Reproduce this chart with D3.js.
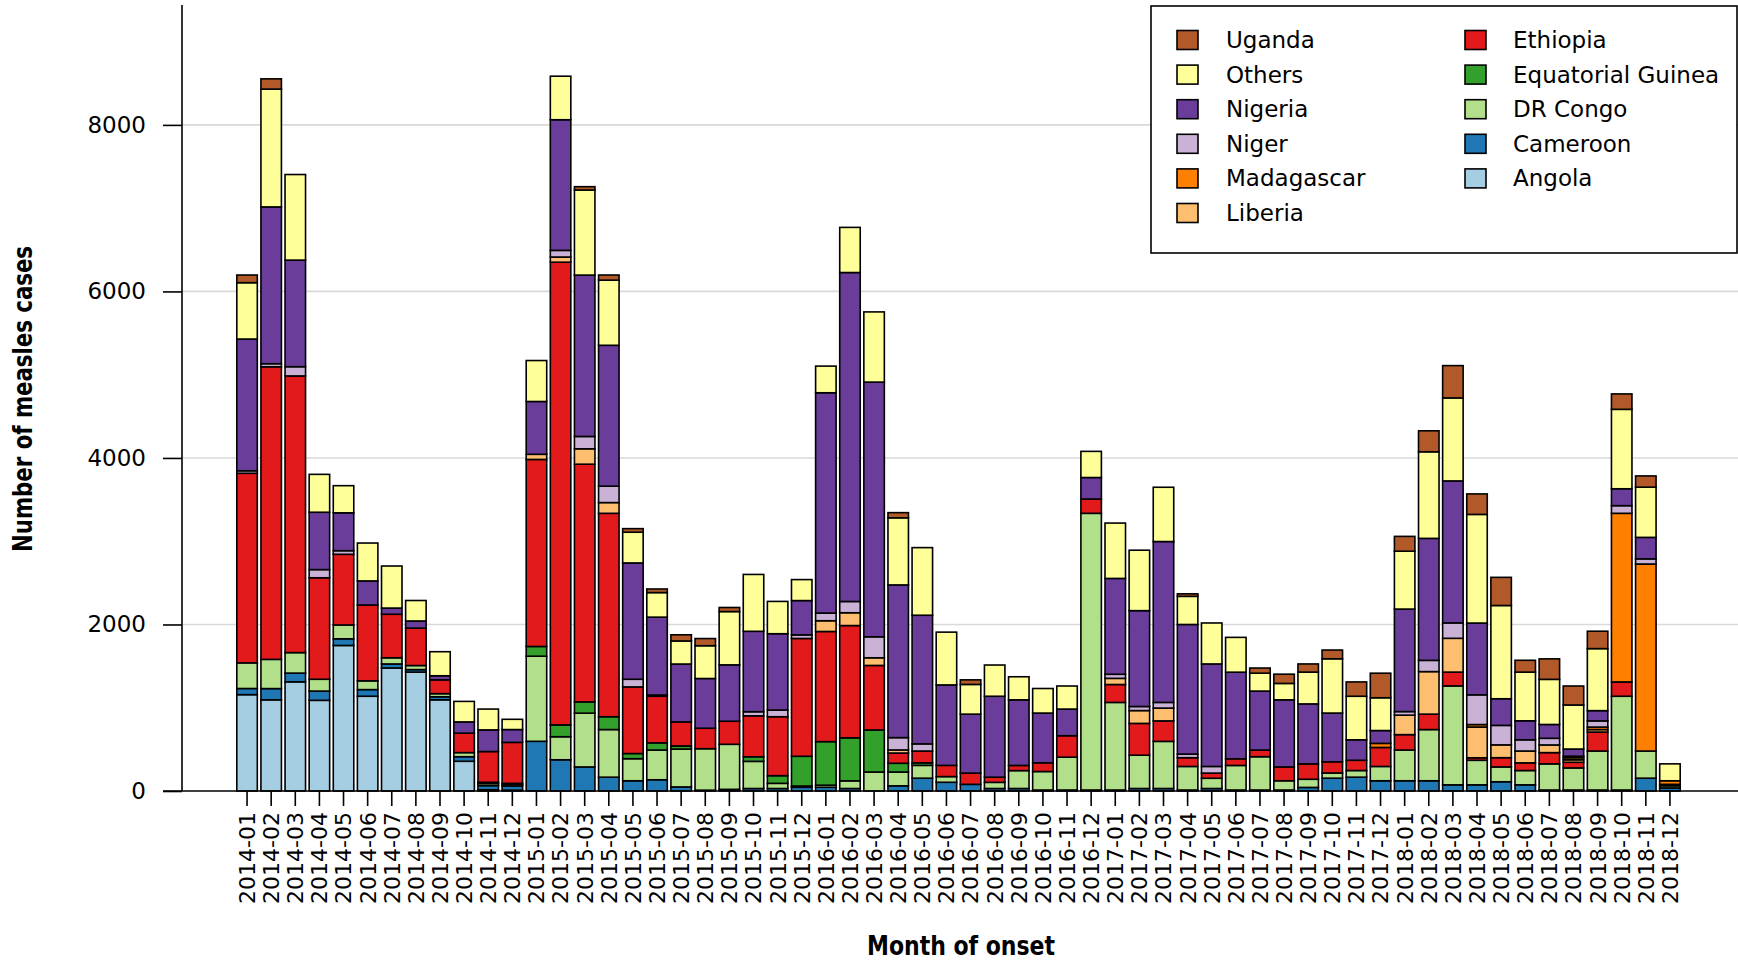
<!DOCTYPE html>
<html><head><meta charset="utf-8">
<script src="https://cdn.jsdelivr.net/npm/d3@7/dist/d3.min.js"></script>
<style>body{margin:0;background:#fff} svg{display:block}</style>
</head><body>
<svg id="c" width="1738" height="960"></svg>
<script>
const months = ["2014-01","2014-02","2014-03","2014-04","2014-05","2014-06","2014-07","2014-08","2014-09","2014-10","2014-11","2014-12",
"2015-01","2015-02","2015-03","2015-04","2015-05","2015-06","2015-07","2015-08","2015-09","2015-10","2015-11","2015-12",
"2016-01","2016-02","2016-03","2016-04","2016-05","2016-06","2016-07","2016-08","2016-09","2016-10","2016-11","2016-12",
"2017-01","2017-02","2017-03","2017-04","2017-05","2017-06","2017-07","2017-08","2017-09","2017-10","2017-11","2017-12",
"2018-01","2018-02","2018-03","2018-04","2018-05","2018-06","2018-07","2018-08","2018-09","2018-10","2018-11","2018-12"];

const angola = [1157,1095,1311,1089,1748,1138,1477,1428,1095,357,15,10,
0,0,0,0,0,0,0,0,0,0,0,0, 0,0,0,0,0,0,0,0,0,0,0,0, 0,0,0,0,0,0,0,0,0,0,0,0, 0,0,0,0,0,0,0,0,0,0,0,0];
const cameroon = [74,135,105,111,80,80,49,30,37,55,50,50,
597,375,289,166,123,135,49,10,20,30,30,45,
45,30,0,62,154,105,80,30,30,12,12,12,
12,30,30,12,30,12,12,12,43,154,166,123,
123,123,74,74,111,74,12,12,12,12,154,37];
const drCongo = [308,351,246,142,166,105,74,49,37,49,25,20,
1022,277,646,572,265,357,455,498,541,326,62,15,
25,92,228,166,154,68,0,74,215,222,394,3323,
1052,400,566,283,123,295,400,111,98,62,80,172,
369,615,1188,295,178,172,314,265,468,1126,326,25];
const eqGuinea = [0,0,0,0,0,0,0,0,0,0,15,12,
117,142,135,154,62,86,37,0,0,55,92,357,
523,517,505,105,30,0,0,0,0,0,0,0,
0,0,0,0,0,0,0,0,0,0,0,0, 0,0,0,0,0,0,0,0,0,0,0,0];
const ethiopia = [2277,3514,3323,1219,849,911,523,449,166,234,369,492,
2246,5557,2855,2443,800,560,289,246,277,492,708,1415,
1323,1348,775,123,142,135,135,62,62,105,258,172,
215,382,246,105,62,80,80,166,185,135,123,228,
185,185,166,30,111,92,135,68,228,172,0,18];
const liberia = [0,0,0,0,0,0,0,0,0,0,0,0,
62,62,185,129,0,0,0,0,0,0,0,0,
129,154,92,37,0,0,0,0,0,0,0,0,
74,154,154,0,0,0,0,0,0,0,0,0,
234,511,406,369,154,142,92,30,30,0,0,0];
const madagascar = [0,0,0,0,0,0,0,0,0,0,0,0, 0,0,0,0,0,0,0,0,0,0,0,0, 0,0,0,0,0,0,0,0,0,0,0,0,
0,0,0,0,0,0,0,0,0,0,0,49,
0,0,0,30,0,0,0,25,30,2025,2246,43];
const niger = [30,37,111,98,43,0,0,0,0,0,0,0,
0,80,148,197,92,15,0,0,0,49,80,43,
92,135,252,148,86,0,0,0,0,0,0,0,
49,49,68,43,80,0,0,0,0,0,0,0,
43,135,185,357,234,135,80,18,74,92,62,0];
const nigeria = [1582,1883,1280,689,455,289,74,86,49,135,260,154,
634,1569,1938,1692,1397,935,695,597,677,966,917,412,
2646,3951,3059,1834,1545,966,708,972,788,597,320,258,
1151,1151,1932,1557,1231,1040,708,806,720,585,246,154,
1231,1465,1705,862,320,228,166,86,123,203,258,0];
const others = [677,1415,1028,455,326,455,505,246,289,246,250,123,
492,523,1022,782,369,295,277,394,640,683,388,252,
320,542,843,806,812,634,357,375,277,295,277,314,
665,726,652,338,492,418,215,197,382,652,523,394,
695,1040,997,1305,1120,585,542,529,745,954,603,203];
const uganda = [92,123,0,0,0,0,0,0,0,0,0,0,
0,0,40,62,43,43,74,86,49,0,0,0,
0,0,0,62,0,0,55,0,0,0,0,0,
0,0,0,30,0,0,62,111,98,105,172,295,
178,252,388,246,338,142,246,228,209,185,135,0];

const seriesNames = ["Angola","Cameroon","DR Congo","Equatorial Guinea","Ethiopia","Liberia","Madagascar","Niger","Nigeria","Others","Uganda"];
const seriesValues = [angola,cameroon,drCongo,eqGuinea,ethiopia,liberia,madagascar,niger,nigeria,others,uganda];
const seriesColors = ["#a6cee3","#1f78b4","#b2df8a","#33a02c","#e31a1c","#fdbf6f","#ff7f00","#cab2d6","#6a3d9a","#ffff99","#b15928"];
const yTicks = [0,2000,4000,6000,8000];
const legendCol1 = ["Uganda","Others","Nigeria","Niger","Madagascar","Liberia"];
const legendCol2 = ["Ethiopia","Equatorial Guinea","DR Congo","Cameroon","Angola"];

const rows = months.map((m,i)=>{const r={month:m}; seriesNames.forEach((s,k)=>r[s]=seriesValues[k][i]); return r;});
const color = d3.scaleOrdinal().domain(seriesNames).range(seriesColors);

const svg = d3.select("#c");
const FONT = "'DejaVu Sans', Verdana, sans-serif";
const x = d3.scaleBand().domain(months).range([235,1682]).paddingInner(0.15).paddingOuter(0.075);
const y = d3.scaleLinear().domain([0,9440]).range([791,5]);

// gridlines
svg.append("g").selectAll("line").data(yTicks.filter(t=>t>0)).join("line")
  .attr("x1",182).attr("x2",1738).attr("y1",d=>y(d)).attr("y2",d=>y(d))
  .attr("stroke","#d9d9d9").attr("stroke-width",1.6);

// bars
const stack = d3.stack().keys(seriesNames)(rows);
svg.append("g").selectAll("g").data(stack).join("g")
  .attr("fill",d=>color(d.key))
  .selectAll("rect").data(d=>d.filter(p=>p[1]-p[0]>0)).join("rect")
  .attr("x",d=>x(d.data.month)).attr("width",x.bandwidth())
  .attr("y",d=>y(d[1])).attr("height",d=>y(d[0])-y(d[1]))
  .attr("stroke","#000").attr("stroke-width",1.6);

// y axis
const ya = svg.append("g").attr("transform","translate(182,0)")
  .call(d3.axisLeft(y).tickValues(yTicks).tickSize(19).tickSizeOuter(0).tickPadding(17).tickFormat(d3.format("d")));
ya.select(".domain").remove();
ya.selectAll(".tick line").attr("stroke","#000").attr("stroke-width",1.6);
ya.selectAll("text").attr("font-family",FONT).attr("font-size",23).attr("fill","#000");
svg.append("line").attr("x1",182).attr("x2",182).attr("y1",y.range()[1]).attr("y2",y(0)).attr("stroke","#000").attr("stroke-width",1.6);

// x axis
const xa = svg.append("g").attr("transform","translate(0,791)")
  .call(d3.axisBottom(x).tickSize(15).tickSizeOuter(0));
xa.select(".domain").remove();
xa.selectAll(".tick line").attr("stroke","#000").attr("stroke-width",1.6);
xa.selectAll("text").attr("font-family",FONT).attr("font-size",22).attr("fill","#000")
  .attr("transform","rotate(-90)").attr("text-anchor","end")
  .attr("x",-21).attr("y",0).attr("dy","0.36em");
svg.append("line").attr("x1",163).attr("x2",1738).attr("y1",791).attr("y2",791).attr("stroke","#000").attr("stroke-width",1.6);

// titles
const TFONT = "'Liberation Sans Narrow','DejaVu Sans Condensed','Arial Narrow',sans-serif";
svg.append("text").text("Month of onset").attr("x",961).attr("y",955)
  .attr("text-anchor","middle").attr("font-family",TFONT).attr("font-weight","bold").attr("font-size",27)
  .attr("textLength",188).attr("lengthAdjust","spacingAndGlyphs");
svg.append("text").text("Number of measles cases").attr("transform","translate(32,399) rotate(-90)")
  .attr("text-anchor","middle").attr("font-family",TFONT).attr("font-weight","bold").attr("font-size",27)
  .attr("textLength",306).attr("lengthAdjust","spacingAndGlyphs");

// legend
const lg = svg.append("g");
lg.append("rect").attr("x",1151).attr("y",6).attr("width",586).attr("height",247)
  .attr("fill","#fff").attr("stroke","#000").attr("stroke-width",1.6);
const addCol = (names, sx, tx) => {
  names.forEach((n,i)=>{
    const cy = 40 + i*34.6;
    lg.append("rect").attr("x",sx).attr("y",cy-9.5).attr("width",21).attr("height",19)
      .attr("fill",color(n)).attr("stroke","#000").attr("stroke-width",1.6);
    lg.append("text").text(n).attr("x",tx).attr("y",cy).attr("dy","0.35em")
      .attr("font-family",FONT).attr("font-size",23).attr("fill","#000");
  });
};
addCol(legendCol1,1177,1226);
addCol(legendCol2,1465,1513);
</script>
</body></html>
